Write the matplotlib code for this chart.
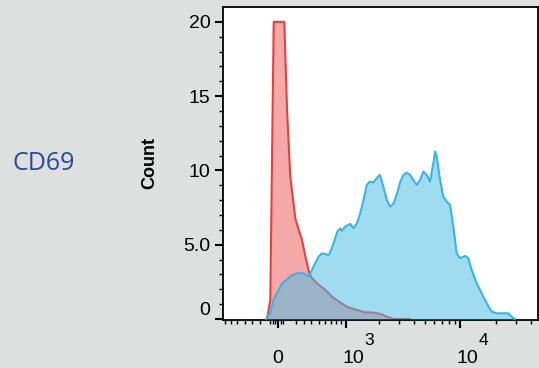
import numpy as np
import matplotlib.pyplot as plt
from matplotlib.ticker import FixedLocator, NullFormatter

# CD69 histogram overlay
# x = fluorescence intensity, y = count
ctrl_x = [-123, -86, -48, 70, 101, 138, 196, 237, 277, 319, 371, 407, 478, 607,
          720, 850, 1020, 1263, 1507, 1790, 2052, 2349, 2681, 3734]
ctrl_count = [0, 1.28, 20.0, 20.0, 14.07, 9.58, 6.78, 6.0, 5.32, 4.2, 3.08, 2.74,
              2.40, 1.95, 1.5, 1.17, 0.83, 0.61, 0.45, 0.43, 0.34, 0.16, 0, 0]

stim_x = [-135, -89, -52, 8, 45, 101, 158, 237, 298, 363, 407, 449, 503, 554, 666,
          749, 817, 878, 912, 984, 1099, 1181, 1271, 1363, 1459, 1564, 1671, 1785,
          1913, 2046, 2191, 2352, 2518, 2702, 2891, 3079, 3283, 3502, 3734, 3986,
          4258, 4547, 4852, 5189, 5536, 5905, 6104, 6310, 6733, 7182, 7676, 8191,
          8736, 9336, 9958, 10980, 11712, 12515, 13799, 15214, 16775, 18494,
          20400, 25599, 28226, 29178]
stim_count = [0, 0.38, 1.28, 1.95, 2.40, 2.67, 2.96, 3.08, 3.08, 2.85, 3.3, 3.75,
              4.2, 4.42, 4.31, 5.1, 5.88, 6.1, 5.93, 6.22, 6.40, 6.11, 6.44, 7.12,
              8.01, 9.02, 9.25, 9.18, 9.47, 9.70, 8.91, 8.01, 7.56, 7.79, 8.46,
              9.25, 9.70, 9.85, 9.70, 9.36, 9.02, 9.36, 9.92, 9.70, 9.25, 10.48,
              11.27, 10.93, 9.36, 8.24, 7.90, 7.68, 6.22, 4.42, 4.09, 4.24, 4.09,
              3.30, 2.40, 1.73, 1.06, 0.49, 0.38, 0.38, 0.05, 0]

y_ticks = [0, 5, 10, 15, 20]
y_ticklabels = ['0', '5.0', '10', '15', '20']
x_major = [0, 1000, 10000]
x_minor = ([-700, -600, -500, -400, -300, -200, -90, -60, -30, 30, 60]
           + list(range(200, 1000, 100)) + list(range(2000, 10000, 1000))
           + [20000, 30000, 40000])

C = 570.0  # linear width of the biexponential-like axis


def fwd(x):
    return np.arcsinh(np.asarray(x) / C)


def inv(y):
    return C * np.sinh(np.asarray(y))


bg = '#dde0df'
fig = plt.figure(figsize=(5.39, 3.68), dpi=100, facecolor=bg)
ax = fig.add_axes([223 / 539, 1 - 320 / 368, 315 / 539, 313 / 368])
ax.set_xscale('function', functions=(fwd, inv))

ax.fill_between(ctrl_x, ctrl_count, 0, color='#f4a8a8', lw=0, zorder=1)
ax.plot(ctrl_x, ctrl_count, color='#e8403f', lw=1.5, zorder=2)
ax.fill_between(stim_x, stim_count, 0, color='#4bbde2', alpha=0.53, lw=0, zorder=3)
ax.plot(stim_x, stim_count, color='#3ab4e4', lw=1.5, zorder=4)

ax.set_xlim(-737, 45700)
ax.set_ylim(-0.07, 21.0)

for s in ax.spines.values():
    s.set_linewidth(1.3)

ax.yaxis.set_major_locator(FixedLocator(y_ticks))
ax.yaxis.set_minor_locator(FixedLocator([v for v in range(0, 21) if v % 5]))
ax.set_yticklabels(y_ticklabels, fontsize=14, family='Liberation Sans')
ax.get_yticklabels()[0].set_va('bottom')

ax.xaxis.set_major_locator(FixedLocator(x_major))
ax.xaxis.set_minor_locator(FixedLocator(x_minor))
ax.xaxis.set_major_formatter(NullFormatter())
ax.xaxis.set_minor_formatter(NullFormatter())

ax.tick_params(which='major', length=6, width=1.5, direction='out', pad=3)
ax.tick_params(which='minor', length=3, width=1.0, direction='out')

# x tick labels in the flow-cytometry style: 0, 10^3, 10^4 with big exponents
lab_kw = dict(xycoords=('data', 'axes fraction'), textcoords='offset points',
              va='baseline', fontsize=14, family='Liberation Sans')
ax.annotate('0', xy=(0, 0), xytext=(0, -31), ha='center', **lab_kw)
for val, exp in [(1000, '3'), (10000, '4')]:
    ax.annotate('10', xy=(val, 0), xytext=(-2.5, -31), ha='left', **lab_kw)
    ax.annotate(exp, xy=(val, 0), xytext=(13.5, -18), ha='left',
                xycoords=('data', 'axes fraction'), textcoords='offset points',
                va='baseline', fontsize=12.5, family='Liberation Sans')

fig.text(150 / 539, 1 - 163 / 368, 'Count', rotation=90, fontsize=13,
         fontweight='bold', family='Liberation Sans', ha='center', va='center')
fig.text(13 / 539, 1 - 164 / 368, 'CD69', fontsize=18, color='#2b4a9b',
         family='Open Sans', ha='left', va='center')

fig.savefig('out.png', dpi=100, facecolor=bg)
